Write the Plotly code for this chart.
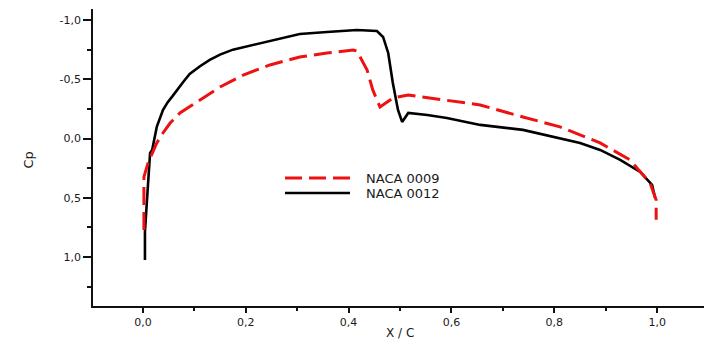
import plotly.graph_objects as go

# NACA 0012 (black, solid)
x_0012 = [0.004, 0.004, 0.008, 0.014, 0.018, 0.027, 0.039, 0.048, 0.058, 0.066, 0.078, 0.091, 0.111,
          0.130, 0.150, 0.175, 0.228, 0.305, 0.358, 0.416, 0.455, 0.467, 0.477, 0.486, 0.496, 0.504,
          0.516, 0.553, 0.591, 0.656, 0.739, 0.850, 0.889, 0.928, 0.967, 0.990, 0.996]
cp_0012 = [1.024, 0.788, 0.518, 0.121, 0.096, -0.098, -0.241, -0.305, -0.360, -0.410, -0.475, -0.545, -0.610,
           -0.663, -0.708, -0.750, -0.806, -0.882, -0.899, -0.916, -0.907, -0.857, -0.722, -0.469, -0.241, -0.140,
           -0.216, -0.199, -0.174, -0.115, -0.073, 0.037, 0.096, 0.180, 0.282, 0.391, 0.501]

# NACA 0009 (red, dashed)
x_0009 = [0.002, 0.002, 0.010, 0.018, 0.027, 0.039, 0.053, 0.072, 0.111, 0.150, 0.195, 0.247,
          0.305, 0.358, 0.409, 0.416, 0.436, 0.447, 0.461, 0.486, 0.516, 0.558, 0.611, 0.656,
          0.739, 0.811, 0.889, 0.947, 0.986, 0.998, 0.998]
cp_0009 = [0.771, 0.324, 0.206, 0.121, 0.037, -0.047, -0.131, -0.216, -0.325, -0.435, -0.536, -0.621,
           -0.688, -0.722, -0.747, -0.739, -0.578, -0.410, -0.266, -0.342, -0.368, -0.342, -0.309, -0.283,
           -0.182, -0.098, 0.037, 0.180, 0.374, 0.518, 0.686]

x_ticks = [0.0, 0.2, 0.4, 0.6, 0.8, 1.0]
x_ticktext = ["0,0", "0,2", "0,4", "0,6", "0,8", "1,0"]
x_minor = [0.1, 0.3, 0.5, 0.7, 0.9]
y_ticks = [-1.0, -0.5, 0.0, 0.5, 1.0]
y_ticktext = ["-1,0", "-0,5", "0,0", "0,5", "1,0"]
y_minor = [-0.75, -0.25, 0.25, 0.75, 1.25]

series_names = ["NACA 0009", "NACA 0012"]

fig = go.Figure()
fig.add_trace(go.Scatter(x=x_0012, y=cp_0012, mode="lines", name=series_names[1],
                         line=dict(color="#000000", width=2.6), showlegend=False))
fig.add_trace(go.Scatter(x=x_0009, y=cp_0009, mode="lines", name=series_names[0],
                         line=dict(color="#ee1111", width=3, dash="18px,7px"), showlegend=False))

FONT = "DejaVu Sans"
tickfont = dict(family=FONT, size=11, color="#1a1a1a")

fig.update_layout(
    width=704, height=351,
    margin=dict(l=93, r=0, t=9, b=45),
    plot_bgcolor="white", paper_bgcolor="white",
    xaxis=dict(range=[-0.097, 1.091], showgrid=False, zeroline=False,
               showline=True, linecolor="#111111", linewidth=1.5,
               ticks="outside", ticklen=5, tickwidth=1.5, tickcolor="#111111",
               tickvals=x_ticks, ticktext=x_ticktext, tickfont=tickfont,
               minor=dict(tickvals=x_minor, ticks="outside", ticklen=3, tickwidth=1.5, tickcolor="#111111")),
    yaxis=dict(range=[1.413, -1.093], showgrid=False, zeroline=False,
               showline=True, linecolor="#111111", linewidth=1.5,
               ticks="outside", ticklen=8, tickwidth=1.5, tickcolor="#111111",
               tickvals=y_ticks, ticktext=y_ticktext, tickfont=tickfont,
               minor=dict(tickvals=y_minor, ticks="outside", ticklen=4, tickwidth=1.5, tickcolor="#111111")),
)

# axis titles
fig.add_annotation(text="Cp", xref="paper", yref="paper", x=-0.1195, y=0.4916,
                   textangle=-90, showarrow=False, font=dict(family=FONT, size=13, color="#1a1a1a"))
fig.add_annotation(text="X / C", xref="paper", yref="paper", x=0.5025, y=-0.121,
                   showarrow=False, font=dict(family=FONT, size=12, color="#1a1a1a"))

# legend (manual)
def px_x(p):
    return (p - 93) / 611.0

def px_y(p):
    return (306 - p) / 297.0

legend_rows = [(178, "#ee1111", "dash", series_names[0]), (193, "#000000", "solid", series_names[1])]
for py, col, dash, label in legend_rows:
    fig.add_shape(type="line", xref="paper", yref="paper",
                  x0=px_x(285), x1=px_x(350), y0=px_y(py), y1=px_y(py),
                  line=dict(color=col, width=3 if dash == "dash" else 2.6,
                            dash="17px,7px" if dash == "dash" else "solid"))
    fig.add_annotation(text=label, xref="paper", yref="paper", x=px_x(364), y=px_y(py),
                       xanchor="left", yanchor="middle", showarrow=False,
                       font=dict(family=FONT, size=13, color="#1a1a1a"))

fig.write_html("out.html")
